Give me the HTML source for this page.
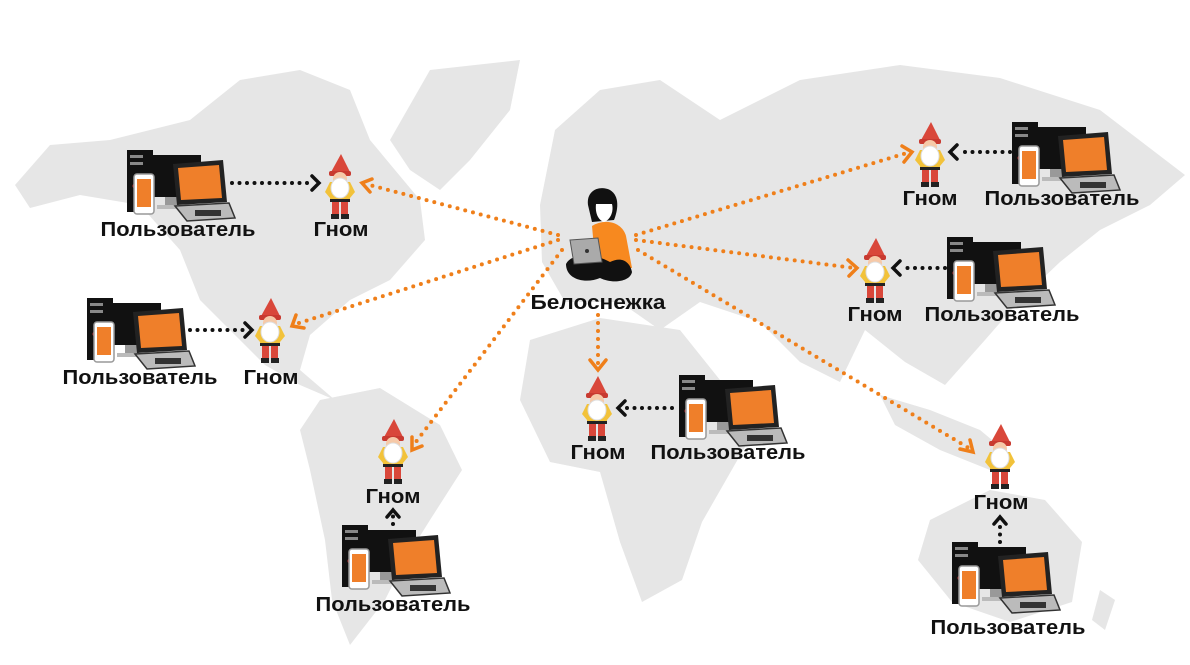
<!DOCTYPE html>
<html><head><meta charset="utf-8"><style>
html,body{margin:0;padding:0;background:#fff;}
svg{display:block}
text{font-family:"Liberation Sans",sans-serif;font-weight:bold;font-size:20px;fill:#111;text-anchor:middle}
</style></head><body>
<svg width="1190" height="665" viewBox="0 0 1190 665" xmlns="http://www.w3.org/2000/svg">
<defs>
<symbol id="pc" viewBox="0 0 110 72" width="110" height="72" overflow="visible">
  <rect x="2" y="0" width="26" height="62" fill="#111"/>
  <rect x="5" y="5" width="20" height="3" fill="#888"/>
  <rect x="5" y="12" width="20" height="3" fill="#888"/>
  <circle cx="10" cy="36" r="2.5" fill="#c33"/>
  <rect x="18" y="5" width="58" height="42" fill="#111"/>
  <rect x="40" y="47" width="14" height="8" fill="#999"/>
  <rect x="32" y="55" width="30" height="4" fill="#bbb"/>
  <polygon points="48,14 98,10 102,52 52,55" fill="#222"/>
  <polygon points="53,18 94,15 97,48 56,50" fill="#ef7f2a"/>
  <polygon points="50,56 104,53 110,68 62,71" fill="#bbb" stroke="#333" stroke-width="1.5"/>
  <rect x="70" y="60" width="26" height="6" fill="#333"/>
  <rect x="9" y="24" width="20" height="40" rx="3" fill="#fff" stroke="#999" stroke-width="1.5"/>
  <rect x="12" y="29" width="14" height="28" fill="#ef7f2a"/>
</symbol>
<symbol id="gn" viewBox="-20 0 40 66" width="40" height="66" overflow="visible">
  <polygon points="1,0 11,20 -10,20" fill="#d9473a"/>
  <rect x="-11" y="17" width="22" height="5" rx="2" fill="#c83a30"/>
  <circle cx="0" cy="25" r="7" fill="#f6c9a8"/>
  <polygon points="-15,38 -10,28 -10,44" fill="#f2c23a"/>
  <polygon points="15,38 10,28 10,44" fill="#f2c23a"/>
  <rect x="-10" y="28" width="20" height="18" fill="#f2c23a"/>
  <ellipse cx="0" cy="34" rx="9" ry="10" fill="#fff" stroke="#ddd"/>
  <rect x="-10" y="45" width="20" height="3" fill="#222"/>
  <rect x="-8" y="48" width="7" height="12" fill="#d9473a"/>
  <rect x="1" y="48" width="7" height="12" fill="#d9473a"/>
  <rect x="-9" y="60" width="8" height="5" fill="#222"/>
  <rect x="1" y="60" width="8" height="5" fill="#222"/>
</symbol>
</defs>

<g fill="#e6e6e6">
  <polygon points="15,185 50,145 110,140 190,120 240,80 300,70 350,90 370,140 420,200 425,240 390,280 350,300 310,335 300,370 335,400 300,385 265,365 230,330 200,300 180,250 140,205 80,195 30,208"/>
  <polygon points="390,140 430,70 520,60 510,110 470,160 440,190 410,170"/>
  <polygon points="320,400 380,388 440,425 462,470 430,520 405,560 385,600 350,645 332,600 325,540 310,470 300,430"/>
  <polygon points="540,205 555,130 600,90 660,80 720,120 800,80 900,65 1000,78 1100,110 1185,175 1150,205 1100,230 1060,262 1020,300 985,340 945,385 905,362 865,330 840,382 800,362 760,322 700,302 660,330 620,302 565,302 542,262"/>
  <polygon points="530,340 600,318 680,330 720,380 772,400 742,452 702,522 682,580 642,602 620,542 600,472 550,462 520,400"/>
  <polygon points="880,395 930,410 980,430 1010,455 990,470 940,450 895,425"/>
  <polygon points="930,520 990,490 1045,500 1082,542 1072,602 1010,622 952,602 918,560"/>
  <polygon points="1100,590 1115,600 1105,630 1092,620"/>
</g>

<g stroke="#ef7f1a" stroke-width="4" stroke-linecap="round" stroke-dasharray="0 8" fill="none">
  <line x1="558" y1="235" x2="366" y2="184"/>
  <line x1="558" y1="240" x2="296" y2="324"/>
  <line x1="562" y1="250" x2="412" y2="447"/>
  <line x1="598" y1="315" x2="598" y2="366"/>
  <line x1="636" y1="235" x2="910" y2="152"/>
  <line x1="636" y1="240" x2="854" y2="268"/>
  <line x1="638" y1="250" x2="972" y2="450"/>
</g>
<g stroke="#ef7f1a" stroke-width="3.5" fill="none" stroke-linecap="round">
  <polyline points="372,179 362,183 370,192"/>
  <polyline points="296,315 292,326 304,328"/>
  <polyline points="412,437 412,450 422,446"/>
  <polyline points="590,360 598,370 606,360"/>
  <polyline points="902,146 912,152 904,162"/>
  <polyline points="848,260 857,268 849,276"/>
  <polyline points="960,449 973,452 970,440"/>
</g>

<g stroke="#111" stroke-width="4" stroke-linecap="round" stroke-dasharray="0 7.5" fill="none">
  <line x1="232" y1="183" x2="312" y2="183"/>
  <line x1="190" y1="330" x2="245" y2="330"/>
  <line x1="672" y1="408" x2="625" y2="408"/>
  <line x1="945" y1="268" x2="900" y2="268"/>
  <line x1="1010" y1="152" x2="958" y2="152"/>
  <line x1="393" y1="524" x2="393" y2="516"/>
  <line x1="1000" y1="542" x2="1000" y2="522"/>
</g>
<g stroke="#111" stroke-width="3.5" fill="none" stroke-linecap="round">
  <polyline points="312,176 319,183 312,190"/>
  <polyline points="245,323 252,330 245,337"/>
  <polyline points="625,401 618,408 625,415"/>
  <polyline points="900,261 893,268 900,275"/>
  <polyline points="957,145 950,152 957,159"/>
  <polyline points="387,517 393,510 399,517"/>
  <polyline points="994,524 1000,517 1006,524"/>
</g>

<use href="#pc" x="125" y="150"/>
<use href="#pc" x="85" y="298"/>
<use href="#pc" x="340" y="525"/>
<use href="#pc" x="677" y="375"/>
<use href="#pc" x="945" y="237"/>
<use href="#pc" x="1010" y="122"/>
<use href="#pc" x="950" y="542"/>

<use href="#gn" x="320" y="154"/>
<use href="#gn" x="250" y="298"/>
<use href="#gn" x="373" y="419"/>
<use href="#gn" x="577" y="376"/>
<use href="#gn" x="855" y="238"/>
<use href="#gn" x="910" y="122"/>
<use href="#gn" x="980" y="424"/>

<g>
  <path d="M592,226 C605,218 622,222 626,236 L632,268 L596,270 Z" fill="#f7891f"/>
  <path d="M588,205 C586,190 600,185 610,190 C620,196 618,210 614,220 L592,222 Z" fill="#111"/>
  <path d="M596,204 L612,204 C614,212 610,220 604,222 C598,220 595,213 596,204 Z" fill="#fff"/>
  <path d="M566,264 C572,252 596,254 610,262 C622,256 630,262 632,272 C630,282 612,284 600,278 C586,284 566,280 566,264 Z" fill="#111"/>
  <polygon points="570,240 598,238 602,262 574,264" fill="#aaa" stroke="#555"/>
  <circle cx="587" cy="251" r="2" fill="#333"/>
</g>

<text x="178" y="236" textLength="155" lengthAdjust="spacingAndGlyphs">Пользователь</text>
<text x="341" y="236" textLength="55" lengthAdjust="spacingAndGlyphs">Гном</text>
<text x="140" y="384" textLength="155" lengthAdjust="spacingAndGlyphs">Пользователь</text>
<text x="271" y="384" textLength="55" lengthAdjust="spacingAndGlyphs">Гном</text>
<text x="393" y="503" textLength="55" lengthAdjust="spacingAndGlyphs">Гном</text>
<text x="393" y="611" textLength="155" lengthAdjust="spacingAndGlyphs">Пользователь</text>
<text x="598" y="309" textLength="135" lengthAdjust="spacingAndGlyphs">Белоснежка</text>
<text x="598" y="459" textLength="55" lengthAdjust="spacingAndGlyphs">Гном</text>
<text x="728" y="459" textLength="155" lengthAdjust="spacingAndGlyphs">Пользователь</text>
<text x="875" y="321" textLength="55" lengthAdjust="spacingAndGlyphs">Гном</text>
<text x="1002" y="321" textLength="155" lengthAdjust="spacingAndGlyphs">Пользователь</text>
<text x="930" y="205" textLength="55" lengthAdjust="spacingAndGlyphs">Гном</text>
<text x="1062" y="205" textLength="155" lengthAdjust="spacingAndGlyphs">Пользователь</text>
<text x="1001" y="509" textLength="55" lengthAdjust="spacingAndGlyphs">Гном</text>
<text x="1008" y="634" textLength="155" lengthAdjust="spacingAndGlyphs">Пользователь</text>
</svg>
</body></html>
